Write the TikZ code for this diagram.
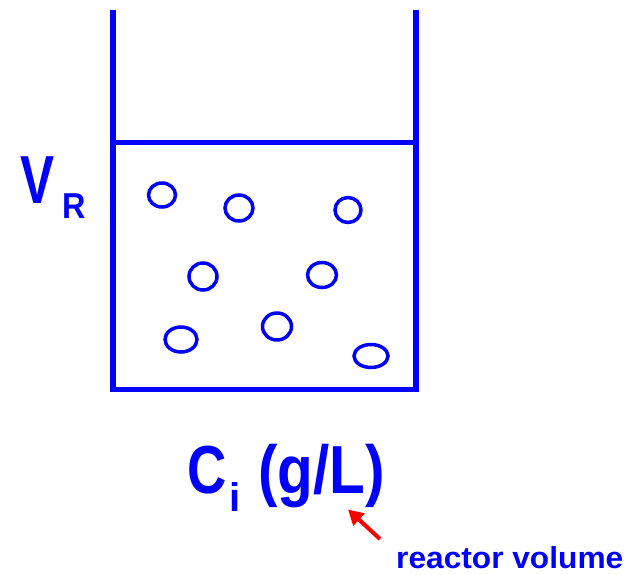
\documentclass[tikz,border=0pt]{standalone}
\usepackage{fontspec}
\setmainfont{Liberation Sans}
\usetikzlibrary{arrows.meta}
\definecolor{pureblue}{RGB}{0,0,255}
\definecolor{purered}{RGB}{255,0,0}
\begin{document}
\begin{tikzpicture}[x=1pt,y=-1pt,
  wall/.style={draw=pureblue,line width=5.5pt},
  bubble/.style={draw=pureblue,line width=3.5pt},
  lbl/.style={anchor=base west,inner sep=0pt,text=pureblue},
  pointer/.style={draw=purered,line width=4pt,-{Triangle[length=15pt,width=16pt]}}]
\useasboundingbox (0,0) rectangle (634,574);
% vessel
\draw[wall] (113,10) -- (113,389.5) -- (416,389.5) -- (416,10);
\draw[wall,line width=5pt] (113,142.5) -- (416,142.5);
% bubbles
\draw[bubble] (162,195) ellipse [x radius=13.5, y radius=12];
\draw[bubble] (239,208) ellipse [x radius=14, y radius=13];
\draw[bubble] (348,210) ellipse [x radius=13, y radius=12.5];
\draw[bubble] (203,276.5) ellipse [x radius=14, y radius=13.5];
\draw[bubble] (322,275) ellipse [x radius=14.5, y radius=12.5];
\draw[bubble] (181,339.5) ellipse [x radius=16, y radius=12.5];
\draw[bubble] (277,326.5) ellipse [x radius=14.5, y radius=13.5];
\draw[bubble] (371,356) ellipse [x radius=17, y radius=11.5];
% labels
\node[lbl,font=\fontsize{68}{68}\selectfont\bfseries] (v) at (20,203) {\scalebox{0.75}[1]{V}};
\node[lbl,font=\fontsize{36}{36}\selectfont\bfseries] (r) at (62.5,218) {\scalebox{0.9}[1]{R}};
\node[lbl,font=\fontsize{68}{68}\selectfont\bfseries] (c) at (187,493) {\scalebox{0.8}[1]{C}};
\node[lbl,font=\fontsize{40}{40}\selectfont\bfseries] (i) at (229.5,511) {i};
\node[lbl,font=\fontsize{68}{68}\selectfont\bfseries] (unit) at (258,493) {\scalebox{0.86}[1]{(g/L)}};
\node[lbl,font=\fontsize{32}{32}\selectfont\bfseries] (rv) at (396,568) {\scalebox{0.99}[0.95]{reactor volume}};
% pointer
\coordinate (ps) at (380,539);
\coordinate (pe) at (348,509.5);
\draw[pointer] (ps) -- (pe);
\end{tikzpicture}
\end{document}
